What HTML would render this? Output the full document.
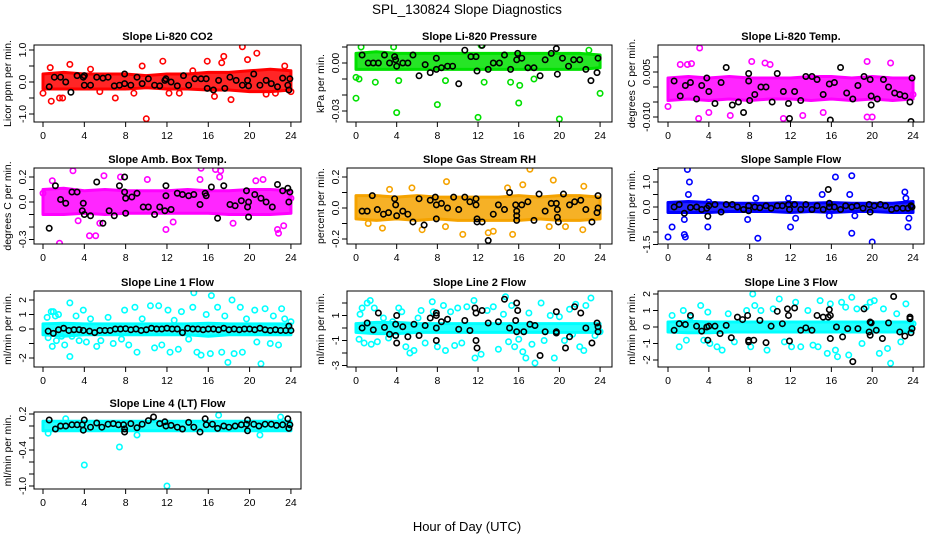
<!DOCTYPE html>
<html><head><meta charset="utf-8">
<style>
body{margin:0;background:#fff;}
svg{display:block;font-family:"Liberation Sans",Arial,sans-serif;}
.t{font-size:11px;font-weight:bold;text-anchor:middle;}
.tk{font-size:10.5px;}
</style></head>
<body>
<svg id="chart" width="936" height="540" viewBox="0 0 936 540">
<defs>
<pattern id="stip" width="3" height="3" patternUnits="userSpaceOnUse"><rect width="3" height="3" fill="#fff"/></pattern>
</defs>
<text x="467" y="14" font-size="13.5" text-anchor="middle">SPL_130824  Slope Diagnostics</text>
<text x="467" y="531" font-size="13" text-anchor="middle">Hour of Day (UTC)</text>
</svg>
<script>
// ---------- DATA ----------
const xTicks = [0,4,8,12,16,20,24];
const panelTitles = ["Slope Li-820 CO2","Slope Li-820 Pressure","Slope Li-820 Temp.","Slope Amb. Box Temp.","Slope Gas Stream RH","Slope Sample Flow","Slope Line 1 Flow","Slope Line 2 Flow","Slope Line 3 Flow","Slope Line 4 (LT) Flow"];
const yTitles = ["Licor ppm per min.","kPa per min.","degrees C per min.","degrees C per min.","percent per min.","ml/min per min.","ml/min per min.","ml/min per min.","ml/min per min.","ml/min per min."];
const yTickVals = [[-1,-0.5,0,0.5,1],[-0.03,-0.02,-0.01,0,0.01],[-0.01,-0.005,0,0.005,0.01],[-0.3,-0.2,-0.1,0,0.1,0.2],[-0.2,-0.1,0,0.1,0.2],[-1.5,-1,-0.5,0,0.5,1,1.5],[-2,-1,0,1,2],[-3,-2,-1,0,1,2],[-2,-1,0,1,2],[-1,-0.8,-0.6,-0.4,-0.2,0,0.2]];
const yTickLabels = [["-1.0","","0.0","","1.0"],["-0.03","","","0.00",""],["-0.010","","","0.005",""],["-0.3","","","0.0","","0.2"],["-0.2","","0.0","","0.2"],["-1.5","","","0.0","","1.0",""],["-2","","0","1","2"],["-3","","-1","","1",""],["-2","-1","0","1","2"],["-1.0","","","-0.4","","","0.2"]];
const bandHi = [
[0.25,0.3,0.25,0.25,0.25,0.2,0.25,0.25,0.3,0.3,0.35,0.4,0.35],
[0.006,0.007,0.006,0.006,0.006,0.006,0.006,0.006,0.006,0.006,0.006,0.006,0.005],
[0.003,0.0035,0.003,0.0035,0.003,0.003,0.003,0.0035,0.0035,0.003,0.0035,0.003,0.003],
[0.1,0.11,0.09,0.1,0.09,0.09,0.09,0.1,0.09,0.09,0.1,0.1,0.09],
[0.08,0.08,0.07,0.08,0.07,0.07,0.07,0.07,0.08,0.07,0.08,0.08,0.07],
[0.18,0.22,0.18,0.15,0.15,0.15,0.18,0.15,0.18,0.15,0.15,0.15,0.22],
[0.35,0.4,0.35,0.35,0.35,0.35,0.35,0.35,0.4,0.35,0.35,0.35,0.35],
[0.35,0.45,0.45,0.35,0.35,0.35,0.35,0.35,0.35,0.35,0.35,0.35,0.35],
[0.3,0.35,0.3,0.3,0.3,0.3,0.3,0.3,0.3,0.3,0.3,0.3,0.3],
[0.08,0.08,0.08,0.08,0.08,0.08,0.08,0.08,0.08,0.08,0.08,0.08,0.08]];
const bandLo = [
[-0.22,-0.22,-0.22,-0.22,-0.22,-0.18,-0.22,-0.22,-0.25,-0.25,-0.3,-0.3,-0.25],
[-0.004,-0.004,-0.004,-0.004,-0.004,-0.004,-0.004,-0.004,-0.004,-0.004,-0.004,-0.004,-0.003],
[-0.0045,-0.004,-0.0045,-0.004,-0.0045,-0.004,-0.004,-0.0045,-0.004,-0.0045,-0.004,-0.0045,-0.004],
[-0.1,-0.1,-0.09,-0.1,-0.09,-0.09,-0.09,-0.09,-0.09,-0.1,-0.1,-0.1,-0.09],
[-0.07,-0.08,-0.07,-0.08,-0.07,-0.08,-0.08,-0.08,-0.08,-0.07,-0.08,-0.08,-0.07],
[-0.22,-0.22,-0.22,-0.18,-0.18,-0.18,-0.22,-0.18,-0.22,-0.18,-0.18,-0.22,-0.22],
[-0.4,-0.5,-0.4,-0.4,-0.4,-0.4,-0.4,-0.4,-0.5,-0.4,-0.4,-0.4,-0.4],
[-0.35,-0.45,-0.45,-0.35,-0.35,-0.35,-0.35,-0.35,-0.35,-0.35,-0.35,-0.35,-0.35],
[-0.3,-0.35,-0.35,-0.3,-0.3,-0.3,-0.3,-0.3,-0.3,-0.3,-0.3,-0.3,-0.3],
[-0.08,-0.08,-0.08,-0.08,-0.08,-0.08,-0.08,-0.08,-0.08,-0.08,-0.08,-0.08,-0.08]];
const outliers = [
[[0.7,0.45],[0.8,-0.6],[1.6,-0.5],[1.9,-0.5],[2.6,0.55],[4.6,0.4],[7,-0.5],[8.8,-0.35],[9.6,0.5],[10,-1.15],[11.6,0.65],[12.2,-0.35],[13.2,-0.35],[15.9,0.65],[16.6,-0.45],[17.3,0.6],[17.5,0.8],[18.2,-0.55],[19.3,1.1],[19.8,0.7],[20.7,0.9],[21.6,-0.38],[23.4,0.5],[24,-0.3],[0,-0.35],[5.5,-0.3],[14.5,0.35],[22.5,-0.35]],
[[0,-0.022],[0,-0.009],[0.3,-0.01],[1.9,-0.012],[4,-0.031],[4.2,-0.011],[8,-0.026],[8.8,-0.011],[12,-0.034],[12.6,-0.012],[15.2,-0.012],[16,-0.025],[16.1,-0.014],[17.5,-0.01],[20,-0.035],[24,-0.019],[0.5,0.01],[3.7,0.01],[12.3,0.011],[22.9,0.008]],
[[3.1,0.013],[1.2,0.0075],[1.9,0.0075],[2.3,0.0078],[8.2,0.0085],[9.5,0.008],[10,0.0075],[19.5,0.0085],[21.8,0.008],[11.3,-0.0105],[3,-0.0105],[15.2,-0.0085],[19.5,-0.01],[20,-0.01],[4,-0.0085],[6.1,-0.0095],[13.2,-0.0095],[0,-0.0065],[24,-0.0025]],
[[0.9,0.17],[1.6,-0.33],[2.9,0.25],[3.4,-0.15],[4.5,-0.27],[5.1,-0.27],[5.5,-0.17],[5.9,0.21],[7.5,0.2],[10.1,0.18],[11.9,-0.22],[12.6,-0.16],[15.3,0.27],[15.2,0.18],[16.7,0.26],[17.1,0.2],[17.2,0.25],[18.4,-0.17],[22.7,-0.22],[22.8,-0.25],[23.3,-0.19],[20.6,0.17],[21.3,0.18],[0,0.07],[24,0.03]],
[[1.2,-0.1],[2.6,-0.13],[3.3,0.12],[5.5,0.13],[6.5,-0.14],[8.9,0.17],[8.8,-0.12],[10.5,-0.17],[13,-0.16],[13.5,-0.15],[14.9,0.13],[15.4,-0.17],[16.4,0.15],[17.1,0.25],[19.4,0.18],[20.6,-0.12],[22.3,-0.14],[22.4,0.14],[19,-0.12]],
[[0,-1.2],[0.4,-0.8],[1.6,-1.1],[1.7,-1.2],[1.9,1.5],[2.1,1.0],[2,0.5],[1.6,-0.5],[3.9,-0.8],[4,0.2],[7.8,-0.5],[8.8,-1.25],[8.6,0.35],[11.8,0.35],[12,-0.8],[12.5,-0.45],[15.1,0.5],[15.8,-0.35],[16.4,1.2],[18,1.25],[18,-1.05],[18.3,-0.35],[17.8,0.5],[20,-1.4],[23.2,0.6],[23.5,-0.8],[23.6,-0.45],[23.3,0.35]],
[[0.4,0.8],[0.5,-0.6],[0.8,1.2],[0.9,-1.2],[1,1.2],[1.2,0.9],[1.3,-0.8],[1.5,1.0],[1.8,-0.5],[2.1,-1.1],[2.6,1.8],[2.6,-1.9],[2.8,-0.5],[3.2,0.9],[3.5,-0.8],[3.9,1.3],[4.2,-0.9],[4.6,0.7],[5.2,-1.2],[5.6,-0.8],[6.3,0.8],[6.8,-1.0],[7.6,-0.7],[7.9,1.3],[8.3,-1.1],[8.9,1.5],[9.1,-1.6],[9.6,0.7],[10.4,1.6],[10.8,-1.3],[11.2,1.6],[11.5,-1.1],[12.1,1.3],[12.3,-1.6],[12.7,0.6],[13.1,-1.4],[13.4,1.2],[14.1,-0.7],[14.6,2.5],[14.5,1.5],[14.9,-1.6],[15.3,-1.8],[15.8,1.0],[16.2,-1.7],[16.3,2.3],[16.9,1.5],[17.3,-1.6],[17.6,0.9],[17.9,-2.3],[18.3,2.0],[18.5,-1.7],[19.1,1.5],[19.3,-1.6],[19.7,0.7],[20.5,1.3],[20.7,-0.9],[21.1,-2.4],[21.5,1.4],[22,-1.0],[22.3,0.9],[22.8,-1.1],[23.1,1.4],[23.4,0.7],[24,0.5]],
[[0.3,-0.9],[0.4,1.1],[0.6,1.6],[0.8,-1.2],[1.1,2.0],[1.4,2.2],[1.5,-1.3],[1.8,1.6],[2.1,-1.1],[2.7,0.8],[3.2,-0.8],[3.6,0.5],[3.9,-0.6],[4.2,1.6],[4.5,1.3],[4.9,-1.5],[5.3,-2.0],[5.7,-1.8],[6.1,0.8],[6.4,1.4],[6.8,-1.2],[7.5,2.1],[7.6,1.3],[8,-1.5],[8.6,1.8],[8.8,-1.8],[9.3,1.3],[9.7,-1.4],[10,1.6],[10.4,-1.2],[10.9,1.7],[11.6,2.2],[11.7,-2.4],[12.3,-2.1],[12.9,1.4],[13.5,1.7],[14,-1.7],[14.5,1.1],[14.7,2.5],[15,-1.1],[15.3,1.8],[15.6,-1.5],[16,-0.9],[16.4,-1.9],[16.7,-2.4],[17,1.2],[17.3,-1.3],[17.6,-2.8],[18.2,2.0],[18.5,-1.0],[19.1,1.0],[19.5,-2.4],[20,0.9],[20.5,-1.0],[21,1.5],[21.3,-0.5],[21.6,1.9],[22,-1.5],[22.4,-1.8],[22.6,1.8],[23.1,2.4],[23.5,-0.6],[24,-0.3]],
[[0.4,0.7],[1.1,-1.2],[1.5,1.0],[1.8,-0.8],[2.2,0.6],[3.2,1.3],[3.5,-0.8],[3.9,0.9],[4.1,-1.0],[4.8,-1.2],[5.3,-1.4],[5.9,0.8],[6.5,-0.9],[7.7,1.0],[8.1,-1.2],[8.3,2.0],[8.5,1.3],[9.1,1.0],[9.7,-1.4],[10.3,1.1],[10.9,1.7],[11.4,-0.9],[12.1,-1.2],[12.5,1.5],[13,-1.2],[13.7,1.0],[14.2,-1.1],[14.7,-1.2],[14.9,1.6],[15.6,-1.6],[15.9,1.4],[16.4,-1.4],[16.6,-1.8],[17,1.5],[17.4,1.2],[17.7,-1.7],[18,1.8],[18.5,1.1],[19,-1.0],[19.4,1.2],[19.8,1.5],[20.2,1.6],[20.7,-1.6],[21.1,1.1],[21.5,-1.3],[21.8,-2.2],[22.4,0.8],[22.8,-0.9],[23.3,1.4],[24,0.2]],
[[4,-0.65],[7.4,-0.35],[12,-1.0],[20,-1.1],[21,-0.15],[9.1,-0.15],[0.5,-0.12],[23,0.15],[17,0.18],[2.2,0.12]]];
const blackPts = [
[[0.6,-0.15],[1.1,0.15],[1.7,0.15],[2.2,0],[2.7,-0.32],[3.3,0.2],[3.9,0.15],[4,0.2],[4,-0.1],[4.6,-0.1],[5.2,0.15],[5.8,0.12],[6.3,0.15],[6.9,-0.12],[7.4,-0.1],[7.9,-0.05],[7.9,0.25],[8.5,-0.1],[9.1,0.15],[9.6,-0.05],[10.2,0.1],[10.8,-0.1],[11.3,-0.12],[11.8,0.05],[11.9,0.1],[12.4,0],[13,-0.12],[13.6,0.2],[14.1,-0.1],[14.7,0.1],[15.3,0.1],[15.8,0.1],[15.9,-0.2],[16.5,-0.25],[17,0.05],[17.6,-0.2],[18.1,0.15],[18.7,0.05],[19.3,-0.1],[19.8,0.05],[19.9,-0.12],[20.4,0.25],[21,-0.1],[21.6,0.05],[22.1,-0.05],[22.7,-0.15],[23.2,0.12],[23.7,-0.1],[23.8,-0.25],[23.9,0.1]],
[[0.6,0.005],[1.2,0],[1.7,0],[2.2,0],[2.8,0.005],[3.3,0],[3.8,0.004],[3.9,0.002],[4,-0.002],[4.6,0],[5.1,0],[5.6,0.005],[6.2,-0.008],[6.8,-0.001],[7.3,-0.006],[7.9,0.003],[7.9,-0.004],[8.4,-0.003],[9,-0.002],[9.5,-0.002],[10.1,-0.013],[10.7,0.008],[11.3,0.004],[11.8,0.004],[11.9,-0.005],[12.4,0.011],[13,-0.004],[13.5,0],[14.1,0],[14.6,0.005],[15.2,-0.004],[15.8,0.002],[15.9,0.006],[16.3,0.003],[16.9,-0.003],[17.5,-0.003],[18.1,-0.008],[18.6,0.002],[19.2,0.006],[19.7,0.009],[19.8,-0.007],[20.3,0.003],[20.9,-0.002],[21.4,0.002],[22,0.002],[22.6,-0.004],[23.1,-0.011],[23.7,-0.006],[23.8,0.003]],
[[0.6,0.002],[1.2,-0.003],[1.7,0.0005],[2.2,0.0015],[2.8,-0.004],[3.3,0.0005],[3.8,0.003],[4,-0.0015],[4.6,-0.0055],[5.2,0.0015],[5.7,0.0065],[6.3,-0.006],[6.9,-0.005],[7.4,-0.0085],[7.9,0.0045],[7.9,0.002],[8,-0.0045],[8.5,-0.0025],[9.1,0],[9.6,0],[10.2,-0.005],[10.7,0.0045],[11.3,-0.0015],[11.8,-0.0055],[11.9,-0.0105],[12.4,-0.0015],[13,-0.0045],[13.5,0.0035],[14.1,0.0035],[14.6,0.0025],[15.2,-0.0025],[15.8,0.001],[15.9,-0.011],[16.3,0.0015],[16.9,0.0065],[17.5,-0.002],[18.1,-0.004],[18.6,0.0005],[19.2,0.0035],[19.8,0.0025],[19.9,-0.003],[19.9,-0.006],[20.5,-0.004],[21.1,0.0025],[21.6,0],[22.2,-0.002],[22.7,-0.0025],[23.2,-0.003],[23.7,-0.005],[23.8,-0.0115],[23.9,0.003]],
[[0.6,-0.21],[1.2,0.13],[1.7,0.02],[2.2,-0.01],[2.8,0.08],[3.3,0.08],[3.8,-0.07],[3.9,-0.01],[4,-0.1],[4.6,-0.11],[5.2,0.16],[5.8,-0.17],[6.4,-0.07],[6.9,-0.11],[7.4,0.13],[7.9,0.2],[7.9,0.08],[8,0.03],[8,-0.09],[8.6,0.04],[9.1,0.07],[9.7,-0.04],[10.2,-0.04],[10.8,-0.1],[11.3,-0.04],[11.8,-0.07],[11.9,0.13],[11.9,0.05],[12.4,-0.06],[13,0.07],[13.5,0.06],[14.1,0.05],[14.6,0.06],[15.2,-0.02],[15.7,0.07],[15.8,0.05],[16.3,0.12],[16.9,-0.13],[17.5,0.13],[18.1,-0.02],[18.6,-0.03],[19.2,0.01],[19.7,0.09],[19.8,-0.04],[19.9,0],[19.9,-0.12],[20.5,0.06],[21.1,0.03],[21.6,0],[22.2,-0.04],[22.7,0.14],[23.2,0.09],[23.7,0.11],[23.8,0],[23.9,0.08]],
[[0.6,-0.02],[1.1,-0.02],[1.6,0.08],[2.1,-0.01],[2.7,-0.04],[3.2,-0.03],[3.8,0.06],[3.9,0.02],[4,-0.05],[4.6,-0.02],[5.1,-0.04],[5.6,-0.09],[6.2,0.06],[6.7,-0.11],[7.3,0.05],[7.8,0.07],[7.9,0.02],[7.9,-0.07],[8.4,0.03],[9,0],[9.6,0.07],[10.1,-0.01],[10.7,0.07],[11.2,0.04],[11.8,0.02],[11.8,0.06],[11.9,-0.07],[11.9,-0.09],[12.4,-0.09],[13,-0.21],[13.5,-0.04],[14,0.02],[14.6,-0.01],[15.1,0.1],[15.7,0.02],[15.8,-0.02],[15.8,-0.05],[15.8,-0.08],[16.3,0.02],[16.9,0.04],[17.5,-0.08],[18,0.09],[18.6,-0.02],[19.2,0.03],[19.7,0.03],[19.8,-0.01],[19.8,-0.06],[19.9,-0.09],[20.4,0.09],[21,0.02],[21.5,0.04],[22.1,0.05],[22.6,-0.01],[23.2,-0.09],[23.7,-0.03],[23.8,0],[23.8,0.08]],
[[0.6,0],[1.1,0.1],[1.6,-0.25],[2.2,-0.02],[2.8,0],[3.3,-0.1],[3.8,-0.05],[3.9,-0.37],[4,0.05],[4.6,0.1],[5.2,-0.2],[5.7,0.1],[6.3,0.1],[6.8,0],[7.4,-0.1],[7.9,0.05],[7.9,-0.15],[8.5,0],[9,-0.03],[9.6,0.05],[10.1,-0.05],[10.7,0.05],[11.2,0.05],[11.8,0.1],[11.9,-0.1],[12.4,0.1],[13,-0.1],[13.5,0.1],[14.1,-0.1],[14.6,0.05],[15.2,-0.1],[15.7,0.7],[15.8,0.15],[15.8,0],[16.3,0],[16.9,-0.1],[17.4,0.05],[18,0],[18.5,0.05],[19.1,-0.05],[19.7,0.1],[19.8,-0.2],[20.2,0.05],[20.8,0.1],[21.3,0.05],[21.9,-0.1],[22.4,-0.05],[23,-0.05],[23.5,-0.05],[23.8,0.05],[23.9,0]],
[[0.5,-0.15],[1,-0.3],[1.5,-0.05],[2,0.05],[2.5,-0.1],[3,-0.05],[3.5,-0.05],[3.9,-0.1],[4.5,-0.15],[5,-0.25],[5.5,-0.1],[6,-0.1],[6.5,-0.1],[7,0],[7.5,0],[8,0.02],[8.5,-0.05],[9,0],[9.5,-0.1],[10,-0.05],[10.5,0.05],[11,0],[11.5,0],[12,0.05],[12.5,0],[13,0],[13.5,-0.25],[14,0.05],[14.5,0],[15,0],[15.5,-0.05],[16,0],[16.5,0],[17,-0.05],[17.5,0.05],[18,-0.05],[18.5,0],[19,-0.05],[19.5,0],[20,0],[20.5,-0.05],[21,0.05],[21.5,-0.05],[22,-0.1],[22.5,-0.05],[23,-0.1],[23.5,-0.1],[23.8,0.2],[24,-0.1]],
[[0.6,0],[1.1,0.4],[1.7,-0.15],[2.2,1.2],[2.8,0.05],[3.3,-0.5],[3.9,-0.6],[3.9,0.3],[4,1.0],[4,-1.2],[4.6,0.1],[5.1,-0.7],[5.7,0.3],[6.2,-0.6],[6.8,0.2],[7.3,0.8],[7.9,1.0],[7.9,1.2],[7.9,-1.0],[7.9,0],[8.4,0.5],[9,0.7],[10.1,-0.1],[10.7,0.6],[11.2,-0.2],[11.7,1.6],[11.8,1.2],[11.8,-1.0],[11.9,-1.6],[12.4,1.4],[13,0.4],[14,0.5],[14.6,2.3],[15.1,0],[15.7,0.6],[15.8,2.0],[15.9,1.4],[15.8,-0.3],[16.5,-0.3],[17.1,0.3],[17.6,0.2],[18.1,-2.2],[18.6,-0.3],[19.7,1.3],[19.7,-0.4],[19.7,-0.3],[20.6,-1.6],[21,-0.7],[21.5,1.7],[22.1,1.2],[22.6,0],[23.2,-1.2],[23.7,0.4],[23.8,0.1],[23.8,-0.3]],
[[0.6,-0.2],[1.1,0.2],[1.7,0.15],[2.2,0.7],[2.8,0.05],[3.3,-0.25],[3.8,0],[3.9,-0.8],[4,0.05],[4.6,0.05],[5.1,-0.4],[5.7,0.1],[6.2,-0.65],[6.8,0.6],[7.3,0.45],[7.8,0.7],[7.9,-0.8],[7.9,-0.9],[8.4,-0.8],[9,0.4],[9.6,-0.95],[10.1,0.05],[10.7,0.95],[11.2,0.2],[11.7,1.1],[11.8,0.7],[11.9,-0.85],[12.4,1.15],[13,-0.2],[13.5,-0.05],[14.1,-0.2],[14.6,0.7],[15.2,0.6],[15.7,0.6],[15.8,1.05],[15.9,0.7],[15.9,-0.7],[16.5,0],[17.1,-0.6],[17.6,-0.1],[18.1,-2.1],[18.6,-0.1],[19.2,1.1],[19.7,-0.3],[19.8,-0.5],[19.8,0.3],[19.9,0.25],[20.4,-0.2],[21,-0.7],[21.6,0.25],[22.1,1.85],[22.7,-0.3],[23.2,-0.55],[23.7,0.5],[23.8,-0.35],[23.9,-0.1],[23.7,0.6]],
[[0.6,0.1],[1.2,-0.05],[1.7,0],[2.2,0],[2.8,0.02],[3.3,0.02],[3.8,0.02],[3.9,-0.07],[4,0.1],[4.6,-0.02],[5.2,0.05],[5.7,-0.02],[6.3,0.03],[6.8,0.04],[7.3,0.02],[7.8,0.02],[7.9,-0.05],[7.9,-0.1],[8.5,0.04],[9.1,-0.03],[9.6,0.03],[10.2,0.09],[10.7,0.15],[11.3,0.04],[11.8,0.07],[11.9,0],[12.4,0.01],[13,-0.02],[13.5,-0.05],[14.1,0.06],[14.6,-0.02],[15.2,-0.1],[15.7,0.12],[15.8,0.02],[16.4,0.03],[16.9,-0.04],[17.5,0],[18,-0.02],[18.6,0],[19.2,0.02],[19.7,0.03],[19.8,0.1],[19.8,-0.08],[20.4,0.03],[20.9,0],[21.5,0.03],[22.1,0.03],[22.6,0.01],[23.2,0.02],[23.7,0.12],[23.8,-0.04],[23.9,0.02]]];
const bandHours = [0,2,4,6,8,10,12,14,16,18,20,22,24];

// ---------- LAYOUT (styling) ----------
const seriesColors = ["#ff0000","#00e000","#ff00ff","#ff00ff","#f5a300","#0000ff","#00ffff","#00ffff","#00ffff","#00ffff"];
const cols = [{bx0:34,bx1:301,x0:43,ppu:10.33},{bx0:347,bx1:612,x0:356,ppu:10.17},{bx0:658,bx1:924,x0:668,ppu:10.21}];
const rows = [{by0:45,by1:122},{by0:168,by1:244},{by0:291,by1:367},{by0:412,by1:489}];
const yCal = [[82,0,50,1],[63,0,111,-0.03],[87,0,72,0.005],[202,0,177,0.2],[208,0,177,0.2],[207,0,182,1],[329,0,300,2],[328,0,303,2],[327,0,294,2],[426,0,414,0.2]];

const NS="http://www.w3.org/2000/svg";
const svg=document.getElementById('chart');
function mk(tag,attrs,parent){const e=document.createElementNS(NS,tag);for(const k in attrs)e.setAttribute(k,attrs[k]);(parent||svg).appendChild(e);return e;}

panelTitles.forEach((title,i)=>{
  const c=cols[i%3], r=rows[Math.floor(i/3)], cal=yCal[i];
  const xs=h=>c.x0+h*c.ppu;
  const ys=v=>cal[0]+(v-cal[1])*(cal[2]-cal[0])/(cal[3]-cal[1]);
  const g=mk('g',{});
  
  
  const cp=mk('clipPath',{id:'cp'+i},g);
  mk('rect',{x:c.bx0,y:r.by0,width:c.bx1-c.bx0,height:r.by1-r.by0},cp);
  const t=mk('text',{x:(c.bx0+c.bx1)/2,y:r.by0-5,class:'t'},g);
  t.textContent=title;
  
  
  const pg=mk('g',{'clip-path':'url(#cp'+i+')'},g);
  let pts=bandHours.map((h,k)=>xs(h)+','+ys(bandHi[i][k]));
  pts=pts.concat(bandHours.slice().reverse().map((h,k)=>xs(h)+','+ys(bandLo[i][bandHours.length-1-k])));
  const band=mk('polygon',{points:pts.join(' '),fill:seriesColors[i],'fill-opacity':0.85,stroke:seriesColors[i],'stroke-width':3,'stroke-linejoin':'round'},pg);
  
  
  outliers[i].forEach(p=>{
    const ci=mk('circle',{cx:xs(p[0]),cy:ys(p[1]),r:2.7,fill:'none',stroke:seriesColors[i],'stroke-width':1.6},pg);
    
    
  });
  blackPts[i].forEach(p=>{
    const ci=mk('circle',{cx:xs(p[0]),cy:ys(p[1]),r:2.7,fill:'none',stroke:'#000','stroke-width':1.6},pg);
    
    
  });
  mk('rect',{x:c.bx0,y:r.by0,width:c.bx1-c.bx0,height:r.by1-r.by0,fill:'none',stroke:'#000','stroke-width':1},g);
  mk('line',{x1:xs(0),x2:xs(24),y1:r.by1,y2:r.by1,stroke:'#000'},g);
  xTicks.forEach(h=>{
    mk('line',{x1:xs(h),x2:xs(h),y1:r.by1,y2:r.by1+5,stroke:'#000'},g);
    const tl=mk('text',{x:xs(h),y:r.by1+17,class:'tk','text-anchor':'middle'},g);
    tl.textContent=h;
    
    
  });
  const tv=yTickVals[i];
  mk('line',{x1:c.bx0,x2:c.bx0,y1:ys(tv[0]),y2:ys(tv[tv.length-1]),stroke:'#000'},g);
  tv.forEach((v,k)=>{
    const y=ys(v);
    mk('line',{x1:c.bx0-5,x2:c.bx0,y1:y,y2:y,stroke:'#000'},g);
    if(yTickLabels[i][k]){
      const yl=mk('text',{x:c.bx0-8,y:y,class:'tk','text-anchor':'middle',transform:'rotate(-90 '+(c.bx0-8)+' '+y+')'},g);
      yl.textContent=yTickLabels[i][k];
      
      
    }
  });
  const yt=mk('text',{x:c.bx0-23,y:(r.by0+r.by1)/2,'font-size':'10.5','text-anchor':'middle',transform:'rotate(-90 '+(c.bx0-23)+' '+((r.by0+r.by1)/2)+')'},g);
  yt.textContent=yTitles[i];
  
  
});
</script>
</body></html>
